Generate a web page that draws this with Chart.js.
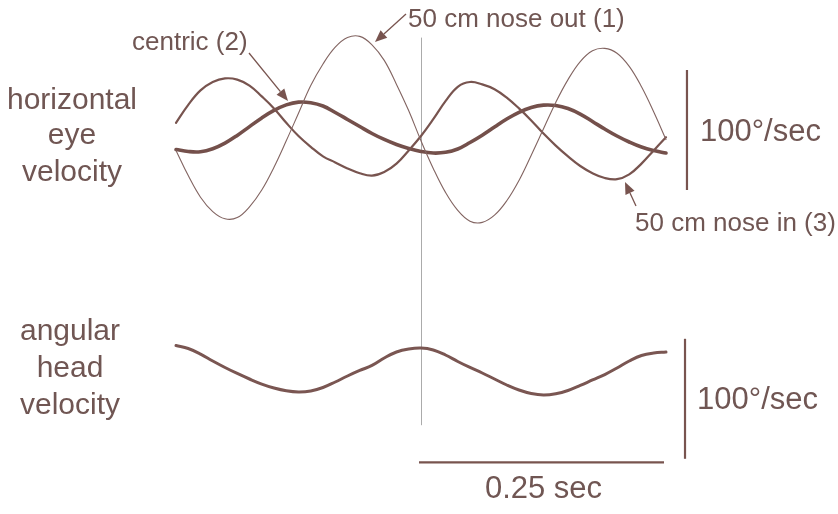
<!DOCTYPE html>
<html>
<head>
<meta charset="utf-8">
<script src="https://cdn.jsdelivr.net/npm/chart.js@4/dist/chart.umd.min.js"></script>
<style>
  html, body { margin: 0; padding: 0; background: #ffffff; }
  #wrap { width: 838px; height: 514px; position: relative; }
</style>
</head>
<body>
<div id="wrap"><canvas id="c" width="838" height="514"></canvas></div>
<script>
// Time samples (s), one every 12.5 ms over the 0.5 s record
const timeSec = [0,0.0125,0.025,0.0375,0.05,0.0625,0.075,0.0875,0.1,0.1125,0.125,0.1375,0.15,0.1625,0.175,0.1875,0.2,0.2125,0.225,0.2375,0.25,0.2625,0.275,0.2875,0.3,0.3125,0.325,0.3375,0.35,0.3625,0.375,0.3875,0.4,0.4125,0.425,0.4375,0.45,0.4625,0.475,0.4875,0.5];

// Horizontal eye velocity (deg/s)
const noseOut1 = [-17,-38,-56,-68,-74,-73,-64,-50,-31,-9,14,37,55,69,77,78,71,58,38,16,-9,-32,-52,-67,-76,-77,-71,-59,-42,-21,1,23,42,57,66,68,64,53,36,15,-8];
const centric2 = [-16.3,-17.9,-18.1,-15.6,-10.9,-4.5,2.8,10.1,16.3,20.9,23.2,22.7,20,14.6,8.8,2.9,-2.9,-7.9,-12.1,-15.4,-17.9,-19.2,-18.6,-15.8,-10.4,-4.3,2.5,9.1,14.7,18.7,20.7,20.4,17.9,13.3,7.1,0.8,-5,-10,-14.2,-17.1,-19.2];
const noseIn3  = [6,21,33,40,43,42,37,28,18,6,-5,-14,-22,-27,-32,-36,-38,-35,-28,-17,-5,9,24,36,40,38,34,27,18,8,-3,-13,-22,-30,-36,-40,-41,-37,-28,-17,-6];

// Angular head velocity (deg/s)
const headVel = [20.4,17.9,13.3,7.5,2.1,-2.9,-7.5,-11.7,-15,-17.3,-18.3,-17.5,-14.6,-10,-5,-0.4,3.8,10,15,17.5,18.3,16.7,12.5,7.1,2.1,-2.5,-7.5,-12.5,-16.7,-19.6,-20.8,-19.8,-17.1,-12.9,-8.3,-3.8,1.7,7.5,12.1,14.2,15];

// Labels
const eyeLabel = ["horizontal", "eye", "velocity"];
const headLabel = ["angular", "head", "velocity"];
const seriesNames = ["50 cm nose out (1)", "centric (2)", "50 cm nose in (3)"];
const velScaleLabel = "100°/sec";
const timeScaleLabel = "0.25 sec";
const velScaleValue = 100;   // deg/s
const timeScaleValue = 0.25; // s
const markerTime = 0.25;     // s

const pts = arr => arr.map((v, i) => ({ x: timeSec[i], y: v }));

const ink = 'rgb(112,86,83)';
const lineBrown = 'rgb(120,84,79)';

const overlay = {
  id: 'overlay',
  beforeDatasetsDraw(chart) {
    const ctx = chart.ctx;
    const xs = chart.scales.x, ye = chart.scales.yEye, yh = chart.scales.yHead;
    const mx = Math.round(xs.getPixelForValue(markerTime)) + 0.5;
    ctx.save();
    ctx.strokeStyle = 'rgba(150,150,150,0.8)';
    ctx.lineWidth = 1;
    ctx.beginPath();
    ctx.moveTo(mx, ye.getPixelForValue(77));
    ctx.lineTo(mx, yh.getPixelForValue(-46));
    ctx.stroke();
    ctx.restore();
  },
  afterDatasetsDraw(chart) {
    const ctx = chart.ctx;
    const xs = chart.scales.x, ye = chart.scales.yEye, yh = chart.scales.yHead;
    ctx.save();
    ctx.strokeStyle = lineBrown;
    ctx.lineWidth = 2.2;
    const bx1 = xs.getPixelForValue(0.5214);
    ctx.beginPath();
    ctx.moveTo(bx1, ye.getPixelForValue(velScaleValue / 2));
    ctx.lineTo(bx1, ye.getPixelForValue(-velScaleValue / 2));
    ctx.stroke();
    const bx2 = xs.getPixelForValue(0.5194);
    ctx.beginPath();
    ctx.moveTo(bx2, yh.getPixelForValue(26));
    ctx.lineTo(bx2, yh.getPixelForValue(26 - velScaleValue));
    ctx.stroke();
    const ty = yh.getPixelForValue(-77);
    ctx.beginPath();
    ctx.moveTo(xs.getPixelForValue(markerTime) - 2, ty);
    ctx.lineTo(xs.getPixelForValue(markerTime + timeScaleValue) - 2, ty);
    ctx.stroke();

    ctx.fillStyle = ink;
    ctx.textBaseline = 'alphabetic';
    ctx.font = '30px "Liberation Sans", Arial, sans-serif';
    ctx.textAlign = 'center';
    const ey = [109, 144, 181];
    eyeLabel.forEach((s, i) => ctx.fillText(s, 72, ey[i]));
    const hy = [340, 377, 414];
    headLabel.forEach((s, i) => ctx.fillText(s, 70, hy[i]));
    ctx.font = '31px "Liberation Sans", Arial, sans-serif';
    ctx.fillText(timeScaleLabel, (xs.getPixelForValue(markerTime) + xs.getPixelForValue(markerTime + timeScaleValue)) / 2, 498);
    ctx.textAlign = 'left';
    ctx.fillText(velScaleLabel, bx1 + 13, ye.getPixelForValue(0) + 11);
    ctx.fillText(velScaleLabel, bx2 + 12, yh.getPixelForValue(26 - velScaleValue / 2) + 10);
    ctx.font = '26px "Liberation Sans", Arial, sans-serif';
    ctx.fillText(seriesNames[0], 408, 27);
    ctx.fillText(seriesNames[1], 132, 50);
    ctx.fillText(seriesNames[2], 635, 231);

    const arrow = (x1, y1, x2, y2, w) => {
      const a = Math.atan2(y2 - y1, x2 - x1);
      const L = 12, H = 5;
      const bxp = x2 - L * Math.cos(a), byp = y2 - L * Math.sin(a);
      ctx.strokeStyle = lineBrown;
      ctx.lineWidth = w;
      ctx.beginPath();
      ctx.moveTo(x1, y1);
      ctx.lineTo(bxp, byp);
      ctx.stroke();
      ctx.fillStyle = lineBrown;
      ctx.beginPath();
      ctx.moveTo(x2, y2);
      ctx.lineTo(bxp + H * Math.sin(a), byp - H * Math.cos(a));
      ctx.lineTo(bxp - H * Math.sin(a), byp + H * Math.cos(a));
      ctx.closePath();
      ctx.fill();
    };
    arrow(406, 14, 375, 42, 1.3);
    arrow(249, 53, 288, 101, 1.3);
    arrow(636, 206, 625, 182, 1.3);
    ctx.restore();
  }
};

new Chart(document.getElementById('c'), {
  type: 'line',
  data: {
    datasets: [
      { label: seriesNames[0], data: pts(noseOut1), yAxisID: 'yEye', borderColor: 'rgb(130,100,97)', borderWidth: 1.1 },
      { label: seriesNames[2], data: pts(noseIn3), yAxisID: 'yEye', borderColor: lineBrown, borderWidth: 2.2 },
      { label: seriesNames[1], data: pts(centric2), yAxisID: 'yEye', borderColor: 'rgb(116,80,75)', borderWidth: 3.6 },
      { label: 'angular head velocity', data: pts(headVel), yAxisID: 'yHead', borderColor: 'rgb(122,86,82)', borderWidth: 3 }
    ]
  },
  options: {
    responsive: false,
    animation: false,
    devicePixelRatio: 1,
    layout: { padding: 0 },
    elements: {
      point: { radius: 0, hoverRadius: 0 },
      line: { tension: 0.4, fill: false, borderCapStyle: 'round', borderJoinStyle: 'round' }
    },
    plugins: { legend: { display: false }, tooltip: { enabled: false } },
    events: [],
    scales: {
      x: { type: 'linear', display: false, min: -0.17959, max: 0.67551 },
      yEye: { type: 'linear', display: false, min: -320, max: 108.333 },
      yHead: { type: 'linear', display: false, min: -120, max: 308.333 }
    }
  },
  plugins: [overlay]
});
</script>
</body>
</html>
